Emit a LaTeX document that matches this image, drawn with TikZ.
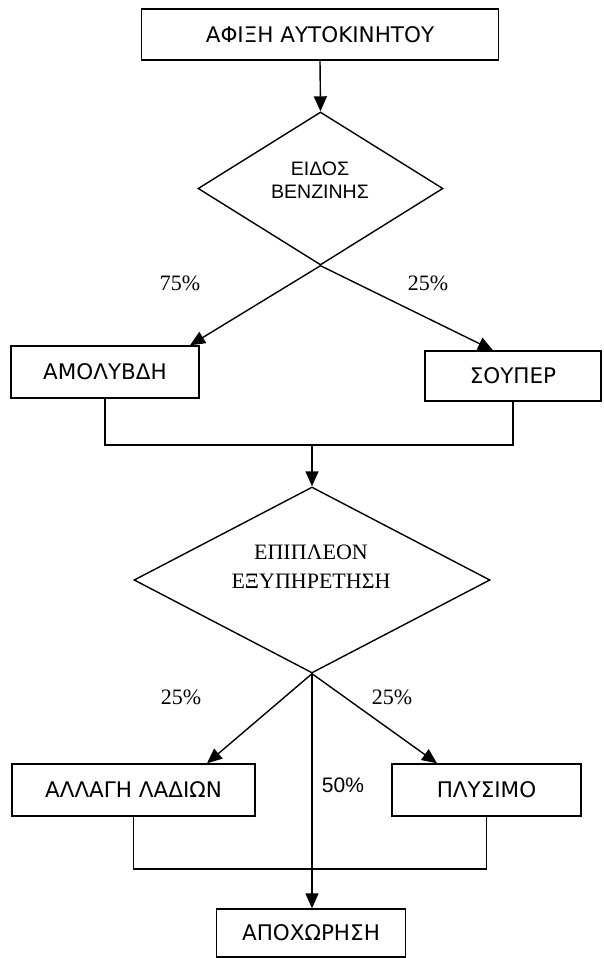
\documentclass[tikz,border=0pt]{standalone}
\usepackage{fontspec}
\setmainfont{Liberation Serif}
\newfontfamily\boxfont{DejaVu Sans}
\newfontfamily\arialfont{Liberation Sans}
\usetikzlibrary{shapes.geometric,arrows.meta,calc}
\begin{document}
\begin{tikzpicture}[x=1pt,y=-1pt, line width=1.4pt,
  box/.style={draw, rectangle, inner sep=0pt, font=\boxfont\fontsize{21.5}{25}\selectfont},
  dia/.style={draw, diamond, inner sep=0pt},
  arr/.style={-{Triangle[length=15pt,width=13pt]}},
  pct/.style={inner sep=0pt, font=\fontsize{22}{26}\selectfont},
  pcts/.style={inner sep=0pt, font=\arialfont\fontsize{21}{25}\selectfont}
]
\useasboundingbox (0,0) rectangle (603,958);

% boxes
\node[box, minimum width=357pt, minimum height=51pt] (top) at (320,34.5) {ΑΦΙΞΗ ΑΥΤΟΚΙΝΗΤΟΥ};
\node[box, minimum width=188pt, minimum height=52pt] (b1) at (105,372) {ΑΜΟΛΥΒΔΗ};
\node[box, minimum width=176pt, minimum height=50pt] (b2) at (513,376) {ΣΟΥΠΕΡ};
\node[box, minimum width=243pt, minimum height=52pt] (b3) at (133.5,790) {ΑΛΛΑΓΗ ΛΑΔΙΩΝ};
\node[box, minimum width=189pt, minimum height=52pt] (b4) at (486.5,790) {ΠΛΥΣΙΜΟ};
\node[box, minimum width=189pt, minimum height=48pt] (b5) at (311,933) {ΑΠΟΧΩΡΗΣΗ};

% diamonds
\node[dia, minimum width=245pt, minimum height=153pt] (d1) at (320.5,188.5) {};
\node[align=center, inner sep=0pt, font=\arialfont\fontsize{19.5}{23}\selectfont] (d1t) at (320,180) {ΕΙΔΟΣ\\ΒΕΝΖΙΝΗΣ};
\node[dia, minimum width=356pt, minimum height=186pt] (d2) at (312,580) {};
\node[align=center, inner sep=0pt, font=\fontsize{22}{29}\selectfont] (d2t) at (311,567) {ΕΠΙΠΛΕΟΝ\\ΕΞΥΠΗΡΕΤΗΣΗ};

% junction coordinates
\coordinate (j1) at (312,445);
\coordinate (j2) at (312,869);

% connectors
\draw[arr] (top.south) -- (d1.north);
\draw[arr] (d1.south) -- ($(b1.north)+(85,0)$);
\draw[arr] (d1.south) -- ($(b2.north)+(-20,0)$);
\draw (b1.south) -- (b1.south |- j1) -- (b2.south |- j1) -- (b2.south);
\draw[arr] (j1) -- (d2.north);
\draw[arr] (d2.south) -- ($(b3.north)+(73.5,0)$);
\draw[arr] (d2.south) -- ($(b4.north)+(-49.5,0)$);
\draw (b3.south) -- (b3.south |- j2) -- (b4.south |- j2) -- (b4.south);
\draw[arr] (d2.south) -- (d2.south |- b5.north);

% labels
\node[pct] (l75) at (180,283) {75\%};
\node[pct] (l25a) at (428,283) {25\%};
\node[pct] (l25b) at (181,697) {25\%};
\node[pct] (l25c) at (392,697) {25\%};
\node[pcts] (l50) at (343,785) {50\%};
\end{tikzpicture}
\end{document}
